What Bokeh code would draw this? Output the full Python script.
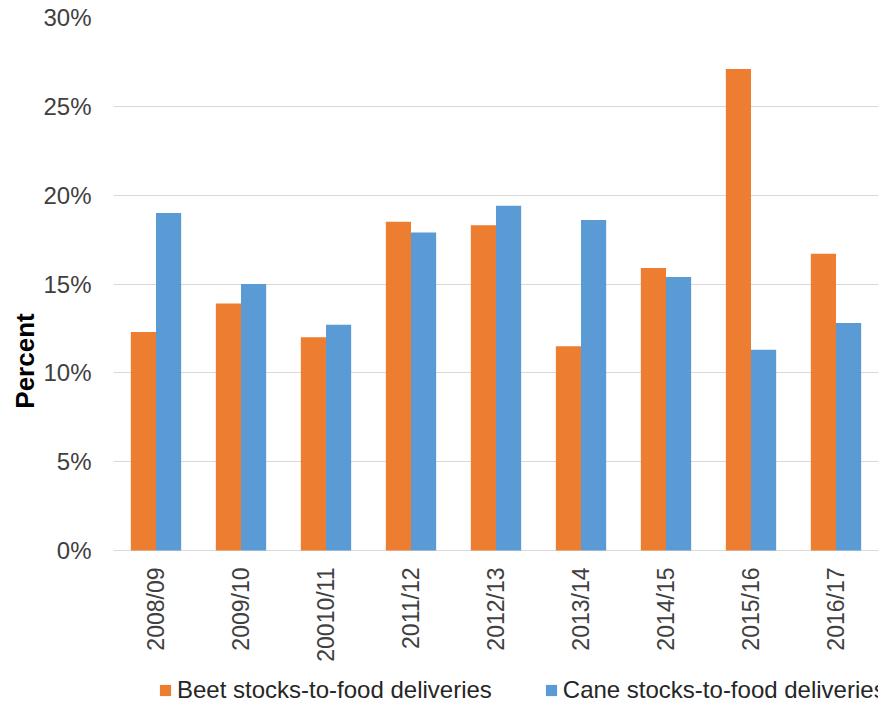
import math
from bokeh.plotting import figure
from bokeh.models import (ColumnDataSource, FactorRange, Range1d, FixedTicker,
                          PrintfTickFormatter, Legend, LegendItem, Title)
from bokeh.core.properties import value
from bokeh.transform import dodge
from bokeh.embed import file_html
from bokeh.resources import INLINE

categories = ["2008/09", "2009/10", "20010/11", "2011/12", "2012/13",
              "2013/14", "2014/15", "2015/16", "2016/17"]
beet = [12.3, 13.9, 12.0, 18.5, 18.3, 11.5, 15.9, 27.1, 16.7]
cane = [19.0, 15.0, 12.7, 17.9, 19.4, 18.6, 15.4, 11.3, 12.8]
y_ticks = [0, 5, 10, 15, 20, 25, 30]

src = ColumnDataSource(dict(cat=categories, beet=beet, cane=cane))

FONT = "Liberation Sans"
TXT = "#404040"

# layout (pixels)
TOP, PLOT_H, BELOW = 17, 533, 154
Y_MAX = 30
px_per_unit = PLOT_H / Y_MAX
y_min = -BELOW / px_per_unit   # room under the 0% line for category labels and legend

p = figure(x_range=FactorRange(*categories, range_padding=0),
           y_range=Range1d(y_min, Y_MAX),
           frame_width=765, frame_height=PLOT_H + BELOW,
           output_backend="svg", toolbar_location=None,
           min_border_left=113, min_border_right=9, min_border_top=TOP,
           min_border_bottom=0)
p.outline_line_color = None

r1 = p.vbar(x=dodge("cat", -0.148, range=p.x_range), top="beet", width=0.296,
            source=src, fill_color="#ED7D31", line_color=None)
r2 = p.vbar(x=dodge("cat", 0.148, range=p.x_range), top="cane", width=0.296,
            source=src, fill_color="#5B9BD5", line_color=None)

# category labels, vertical, under the 0% line
p.text(x="cat", y=0, text="cat", source=src, angle=math.pi / 2,
       y_offset=17, text_align="right", text_baseline="middle",
       text_font=value(FONT), text_font_size="23px", text_color=TXT)

p.xaxis.visible = False
p.xgrid.grid_line_color = None

yt = FixedTicker(ticks=y_ticks)
p.yaxis.ticker = yt
p.ygrid.ticker = yt
p.ygrid.grid_line_color = "#D9D9D9"
p.ygrid.grid_line_width = 1

p.yaxis.formatter = PrintfTickFormatter(format="%d%%")
p.yaxis.axis_line_color = None
p.yaxis.major_tick_line_color = None
p.yaxis.minor_tick_line_color = None
p.yaxis.major_tick_out = 0
p.yaxis.major_tick_in = 0
p.yaxis.major_label_standoff = 22
p.yaxis.major_label_text_font = FONT
p.yaxis.major_label_text_font_size = "24px"
p.yaxis.major_label_text_color = TXT

# y-axis title, centred on the 0–30% span rather than the whole frame
ytitle = Title(text="Percent", align="center", offset=BELOW / 2,
               text_font=FONT, text_font_size="26px", text_font_style="bold",
               text_color="#000000", standoff=2)
p.add_layout(ytitle, "left")

legend = Legend(items=[LegendItem(label="Beet stocks-to-food deliveries", renderers=[r1]),
                       LegendItem(label="Cane stocks-to-food deliveries", renderers=[r2])],
                orientation="horizontal", location=(45, 0),
                label_text_font=FONT, label_text_font_size="24px",
                label_text_color="#262626", glyph_width=14, glyph_height=14,
                label_standoff=5, spacing=52, border_line_color=None,
                background_fill_alpha=0, padding=0, margin=0)
p.add_layout(legend, "center")

open("out.html", "w").write(file_html(p, INLINE))
